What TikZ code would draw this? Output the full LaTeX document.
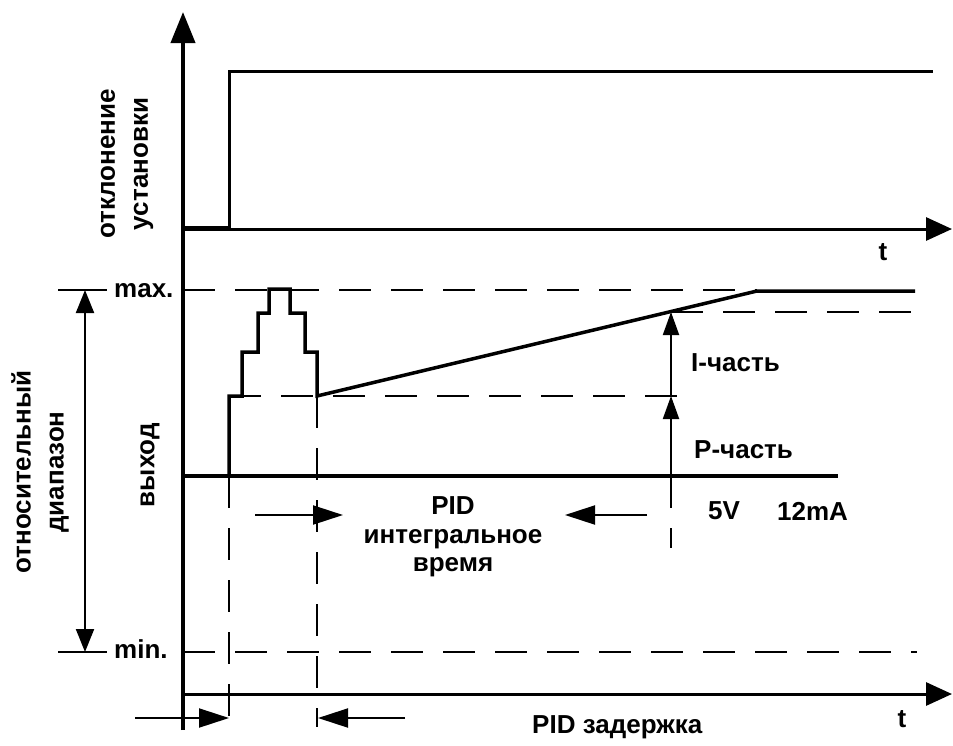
\documentclass[tikz,border=0pt]{standalone}
\usepackage{fontspec}
\setmainfont{Liberation Sans}
\usetikzlibrary{arrows.meta,calc}
\tikzset{
  yaxis/.style={line width=4pt, -{Triangle[length=31pt,width=24pt]}},
  taxis/.style={line width=3pt, -{Triangle[length=26pt,width=23pt]}},
  signal/.style={line width=3.5pt, line join=miter},
  level/.style={line width=2pt, dash pattern=on 32pt off 20pt},
  tickline/.style={line width=2pt},
  partarrow/.style={line width=2pt, -{Triangle[length=23pt,width=16pt]}},
  rangearrow/.style={line width=2pt, {Triangle[length=23pt,width=18pt]}-{Triangle[length=23pt,width=18pt]}},
  timearrow/.style={line width=2pt, -{Triangle[length=30pt,width=19pt]}},
  lbl/.style={font=\fontsize{26}{33}\selectfont\bfseries, inner sep=0pt, align=center}
}
\begin{document}
\begin{tikzpicture}[x=1pt,y=-1pt]
  \useasboundingbox (0,0) rectangle (953,745);
  \coordinate (ybot) at (183,730);
  \coordinate (ytop) at (183,12);
  \coordinate (t1a) at (183,229);
  \coordinate (t1b) at (952,229);
  \coordinate (t2a) at (183,694);
  \coordinate (t2b) at (952,694);
  \draw[yaxis] (ybot) -- (ytop);
  \draw[taxis] (t1a) -- (t1b);
  \draw[taxis] (t2a) -- (t2b);
  \node[lbl] (tup) at (883,252) {t};
  \node[lbl] (tlow) at (902,719) {t};

  % setpoint
  \draw[line width=5pt] (183,228) -- (229,228);
  \draw[line width=3pt, line join=miter] (229,228) -- (229,71) -- (933,71);
  \node[lbl, rotate=90] (dev) at (127,164) {отклонение\\установки};

  % output
  \draw[line width=3.5pt] (183,476) -- (838,476);
  \draw[level] (183,290) -- (757,290);
  \draw[level] (183,652) -- (917,652);
  \draw[level] (229,396) -- (697,396);
  \draw[level] (671,312) -- (917,312);
  \draw[level] (229,476) -- (229,727);
  \draw[level] (317,396) -- (317,727);
  \draw[level] (671,476) -- (671,548);
  \draw[signal] (229,476) |- (242,396) |- (258,352) |- (269,313) |- (290,289)
    |- (305,313) |- (317,352) -- (317,396) -- (757,291) -- (915,291);

  \coordinate (pbase) at (671,476);
  \coordinate (plev) at (671,396);
  \coordinate (ilev) at (671,312);
  \draw[partarrow] (pbase) -- (plev);
  \draw[partarrow] (plev) -- (ilev);
  \node[lbl, anchor=west] (ipart) at (691,363) {I-часть};
  \node[lbl, anchor=west] (ppart) at (694,450) {P-часть};
  \node[lbl, anchor=west] (volt) at (708,511) {5V};
  \node[lbl, anchor=west] (amp) at (777,511) {12mA};

  % range
  \coordinate (rmax) at (85,290);
  \coordinate (rmin) at (85,652);
  \draw[tickline] (58,290) -- (107,290);
  \draw[tickline] (58,652) -- (107,652);
  \draw[rangearrow] (rmax) -- (rmin);
  \node[lbl, anchor=base west] (maxl) at (114,297) {max.};
  \node[lbl, anchor=base west] (minl) at (114,658) {min.};
  \node[lbl, rotate=90] (rel) at (40,472) {относительный\\диапазон};
  \node[lbl, rotate=90] (out) at (150,465) {выход};

  % time spans
  \coordinate (ia) at (255,515);
  \coordinate (ib) at (343,515);
  \coordinate (ic) at (647,515);
  \coordinate (id) at (565,515);
  \draw[timearrow] (ia) -- (ib);
  \draw[timearrow] (ic) -- (id);
  \node[lbl, font=\fontsize{26}{28.5}\selectfont\bfseries] (integ) at (453,537) {PID\\интегральное\\время};
  \coordinate (da) at (135,718);
  \coordinate (db) at (229,718);
  \coordinate (dc) at (405,718);
  \coordinate (dd) at (318,718);
  \draw[timearrow] (da) -- (db);
  \draw[timearrow] (dc) -- (dd);
  \node[lbl, anchor=base west] (delay) at (532,733) {PID задержка};
\end{tikzpicture}
\end{document}
